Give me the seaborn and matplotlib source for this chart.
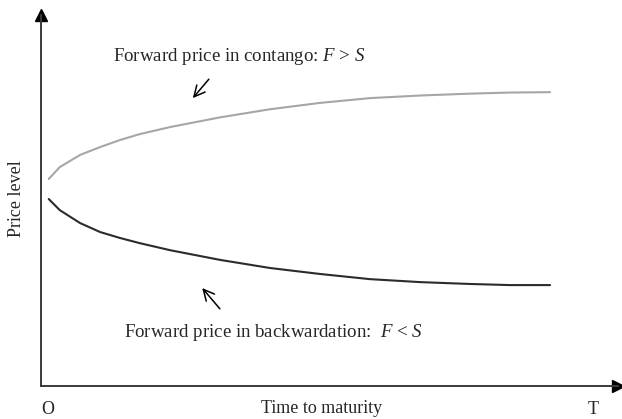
import matplotlib
matplotlib.use("Agg")
import matplotlib.pyplot as plt
import seaborn as sns
import pandas as pd

# ----------------------------------------------------------------
# DATA (time O..T = 0..1, price in axis units)
# ----------------------------------------------------------------
time_to_maturity = [0.014, 0.034, 0.071, 0.107, 0.143, 0.179, 0.234, 0.324,
                    0.415, 0.505, 0.596, 0.687, 0.777, 0.850, 0.922]
contango_price = [0.558, 0.590, 0.623, 0.644, 0.663, 0.679, 0.698, 0.724,
                  0.746, 0.763, 0.776, 0.783, 0.788, 0.791, 0.792]
backwardation_price = [0.504, 0.474, 0.439, 0.415, 0.399, 0.385, 0.366, 0.340,
                       0.318, 0.302, 0.288, 0.280, 0.275, 0.272, 0.272]
end_labels = ["O", "T"]
end_positions = [0.013, 1.0]

sns.set_style("white")
plt.rcParams['font.family'] = ['Liberation Serif', 'DejaVu Serif']
plt.rcParams['mathtext.fontset'] = 'custom'
plt.rcParams['mathtext.rm'] = 'Liberation Serif'
plt.rcParams['mathtext.it'] = 'Liberation Serif:italic'
plt.rcParams['font.size'] = 13

UPPER_COLOR = "#a6a6a6"
LOWER_COLOR = "#2b2b2b"
AXIS_COLOR = "#3a3a3a"

df = pd.DataFrame({
    "time": time_to_maturity,
    "contango": contango_price,
    "backwardation": backwardation_price,
})

fig = plt.figure(figsize=(6.22, 4.19), dpi=100)
ax = fig.add_axes([41 / 622, 33 / 419, 577 / 622, 371 / 419])

sns.lineplot(data=df, x="time", y="contango", color=UPPER_COLOR, linewidth=1.5, ax=ax)
sns.lineplot(data=df, x="time", y="backwardation", color=LOWER_COLOR, linewidth=1.5, ax=ax)

ax.set_xlim(0, 1.045)
ax.set_ylim(0, 1)

# axes with arrow heads
for side in ["top", "right"]:
    ax.spines[side].set_visible(False)
for side in ["left", "bottom"]:
    ax.spines[side].set_color(AXIS_COLOR)
    ax.spines[side].set_linewidth(1.4)
ax.plot(1, 0, ">", color="black", markersize=8, transform=ax.transAxes, clip_on=False)
ax.plot(0, 1, "^", color="black", markersize=8, transform=ax.transAxes, clip_on=False)

ax.set_xticks(end_positions, end_labels)
ax.set_yticks([])
ax.tick_params(axis="x", length=0, pad=11, labelsize=13)

ax.set_xlabel("Time to maturity", fontsize=13, va="center")
ax.xaxis.set_label_coords(0.487, -0.060)
ax.set_ylabel("Price level", fontsize=13, va="center")
ax.yaxis.set_label_coords(-0.043, 0.504)

# annotations
arrow_style = dict(arrowstyle="->,head_length=0.6,head_width=0.3", color="black",
                   lw=1.1, shrinkA=0, shrinkB=0)
ax.text(0.130, 0.887, "Forward price in contango: $F$ > $S$", ha="left", va="center",
        fontsize=13.6)
ax.annotate("", xy=(0.275, 0.776), xytext=(0.304, 0.827), arrowprops=arrow_style)
ax.text(0.150, 0.143, "Forward price in backwardation:  $F$ < $S$", ha="left", va="center",
        fontsize=13.6)
ax.annotate("", xy=(0.292, 0.264), xytext=(0.324, 0.208), arrowprops=arrow_style)

fig.savefig("out.png", dpi=100)
